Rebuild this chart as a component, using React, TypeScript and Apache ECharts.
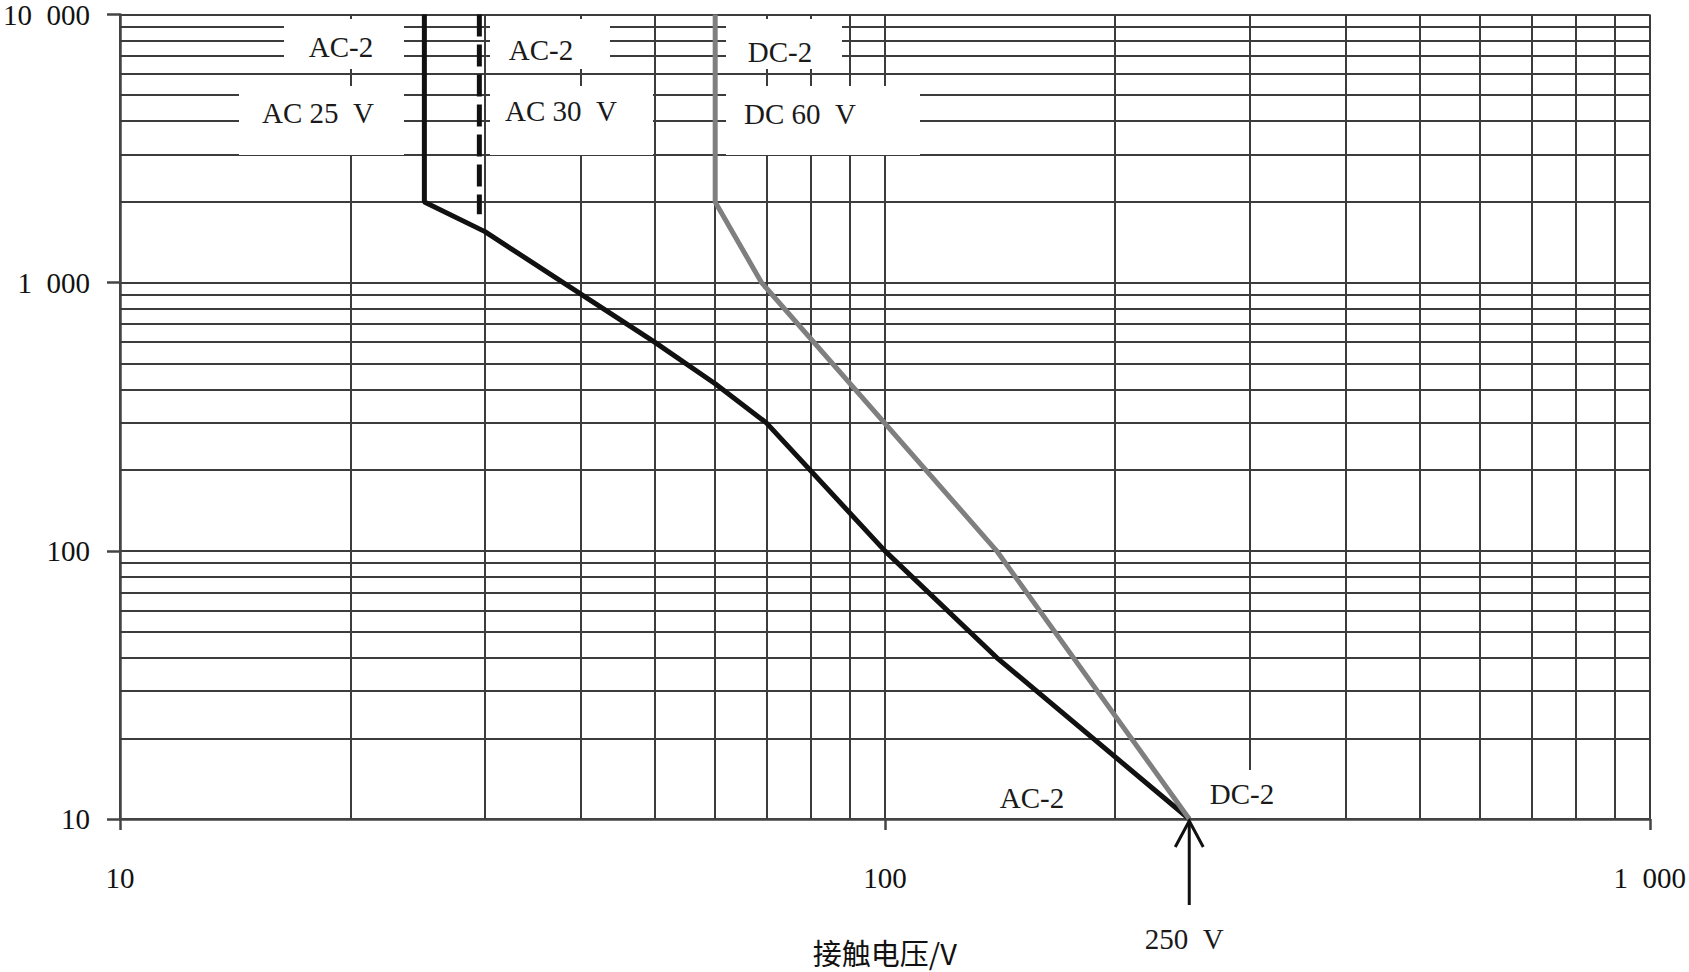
import React, { useEffect, useRef } from "react";
import * as echarts from "echarts";

// Axis tick values and their printed labels
const xTickValues = [10, 100, 1000];
const xTickLabels = ["10", "100", "1\u2002000"];
const yTickValues = [10, 100, 1000, 10000];
const yTickLabels = ["10", "100", "1\u2002000", "10\u2002000"];

// Minor grid lines (log paper)
const xMinorGrid = [20, 30, 40, 50, 60, 70, 80, 90, 200, 300, 400, 500, 600, 700, 800, 900];
const yMinorGrid = [
  20, 30, 40, 50, 60, 70, 80, 90,
  200, 300, 400, 500, 600, 700, 800, 900,
  2000, 3000, 4000, 5000, 6000, 7000, 8000, 9000,
];

// AC-2 curve (AC 25 V), touch voltage (V) vs time (ms)
const ac2Voltage = [25, 25, 30, 50, 60, 70, 100, 140, 250];
const ac2Time = [10000, 2000, 1550, 600, 420, 300, 100, 40, 10];

// AC 30 V dashed boundary
const ac30Voltage = [29.5, 29.5];
const ac30Time = [10000, 1800];

// DC-2 curve (DC 60 V)
const dc2Voltage = [60, 60, 69, 140, 250];
const dc2Time = [10000, 2000, 1000, 100, 10];

// Marked voltage
const arrowVoltage = 250;
const arrowTime = 10;

function labelFor(values: number[], labels: string[], v: number) {
  for (let i = 0; i < values.length; i++) {
    if (Math.abs(values[i] - v) / values[i] < 1e-6) return labels[i];
  }
  return "";
}

export default function App() {
  const ref = useRef<HTMLDivElement>(null);

  useEffect(() => {
    document.body.style.margin = "0";
    const chart = echarts.init(ref.current!, null, { renderer: "svg" });
    const serif = '"Liberation Serif", "Times New Roman", serif';
    const gridColor = "#3c3c3c";
    const gridWidth = 2;

    const zip = (xs: number[], ys: number[]) => xs.map((x, i) => [x, ys[i]]);

    chart.setOption({
      animation: false,
      backgroundColor: "#ffffff",
      grid: { left: 118, top: 11, width: 1534, height: 811, containLabel: false },
      xAxis: {
        type: "log",
        logBase: 10,
        min: 10,
        max: 1000,
        name: "接触电压/V",
        nameLocation: "middle",
        nameGap: 118,
        nameTextStyle: {
          fontFamily: '"Noto Sans CJK SC", sans-serif',
          fontSize: 29,
          color: "#111",
          lineHeight: 30,
        },
        axisLine: { show: true, lineStyle: { color: "#444", width: 2.5 } },
        axisTick: { show: true, length: 11, lineStyle: { color: "#444", width: 2.5 } },
        axisLabel: {
          margin: 44,
          fontFamily: serif,
          fontSize: 29,
          color: "#111",
          formatter: (v: number) => labelFor(xTickValues, xTickLabels, v),
        },
        splitLine: { show: true, lineStyle: { color: gridColor, width: gridWidth } },
      },
      yAxis: {
        type: "log",
        logBase: 10,
        min: 10,
        max: 10000,
        axisLine: { show: true, lineStyle: { color: "#444", width: 2.5 } },
        axisTick: { show: true, length: 13, lineStyle: { color: "#444", width: 2.5 } },
        axisLabel: {
          margin: 30,
          fontFamily: serif,
          fontSize: 29,
          color: "#111",
          formatter: (v: number) => labelFor(yTickValues, yTickLabels, v),
        },
        splitLine: { show: true, lineStyle: { color: gridColor, width: gridWidth } },
      },
      series: [
        {
          name: "grid",
          type: "line",
          data: [[10, 10]],
          symbol: "none",
          silent: true,
          z: 1,
          lineStyle: { width: 0 },
          markLine: {
            z: 1,
            silent: true,
            symbol: ["none", "none"],
            label: { show: false },
            lineStyle: { type: "solid", color: gridColor, width: gridWidth },
            emphasis: { disabled: true },
            data: [
              ...xMinorGrid.map((v) => ({ xAxis: v })),
              ...yMinorGrid.map((v) => ({ yAxis: v })),
            ],
          },
        },
        {
          name: "AC-2",
          type: "line",
          data: zip(ac2Voltage, ac2Time),
          symbol: "none",
          z: 30,
          lineStyle: { color: "#111", width: 5 },
        },
        {
          name: "AC 30 V",
          type: "line",
          data: zip(ac30Voltage, ac30Time),
          symbol: "none",
          z: 30,
          lineStyle: { color: "#111", width: 5, type: [22, 8] },
        },
        {
          name: "DC-2",
          type: "line",
          data: zip(dc2Voltage, dc2Time),
          symbol: "none",
          z: 30,
          lineStyle: { color: "#7f7f7f", width: 5 },
        },
      ],
    });

    const tip = chart.convertToPixel({ xAxisIndex: 0, yAxisIndex: 0 }, [arrowVoltage, arrowTime]) as number[];
    const font = { fontFamily: serif, fontSize: 29, fill: "#1a1a1a" };
    const box = (x: number, y: number, w: number, h: number) => ({
      type: "rect",
      z: 10,
      silent: true,
      shape: { x, y, width: w, height: h },
      style: { fill: "#ffffff" },
    });
    const txt = (text: string, x: number, y: number) => ({
      type: "text",
      z: 11,
      silent: true,
      style: { text, x, y, align: "center", verticalAlign: "middle", ...font },
    });

    chart.setOption({
      graphic: [
        box(284, 19, 120, 50),
        box(239, 86, 165, 69),
        box(490, 19, 120, 50),
        box(490, 86, 163, 69),
        box(726, 19, 116, 50),
        box(726, 86, 194, 69),
        box(1203, 770, 84, 48),
        txt("AC-2", 341, 47),
        txt("AC 25\u2002V", 318, 113),
        txt("AC-2", 541, 50),
        txt("AC 30\u2002V", 561, 111),
        txt("DC-2", 780, 52),
        txt("DC 60\u2002V", 800, 114),
        txt("AC-2", 1032, 798),
        txt("DC-2", 1242, 794),
        {
          type: "line",
          z: 40,
          silent: true,
          shape: { x1: tip[0], y1: tip[1] + 86, x2: tip[0], y2: tip[1] + 3 },
          style: { stroke: "#111", lineWidth: 3 },
        },
        {
          type: "polyline",
          z: 40,
          silent: true,
          shape: {
            points: [
              [tip[0] - 14, tip[1] + 28],
              [tip[0], tip[1] + 2],
              [tip[0] + 14, tip[1] + 28],
            ],
          },
          style: { stroke: "#111", lineWidth: 3, fill: "none" },
        },
        txt("250\u2002V", tip[0] - 5, tip[1] + 120),
      ],
    });

    return () => chart.dispose();
  }, []);

  return <div ref={ref} style={{ width: 1689, height: 972 }} />;
}
